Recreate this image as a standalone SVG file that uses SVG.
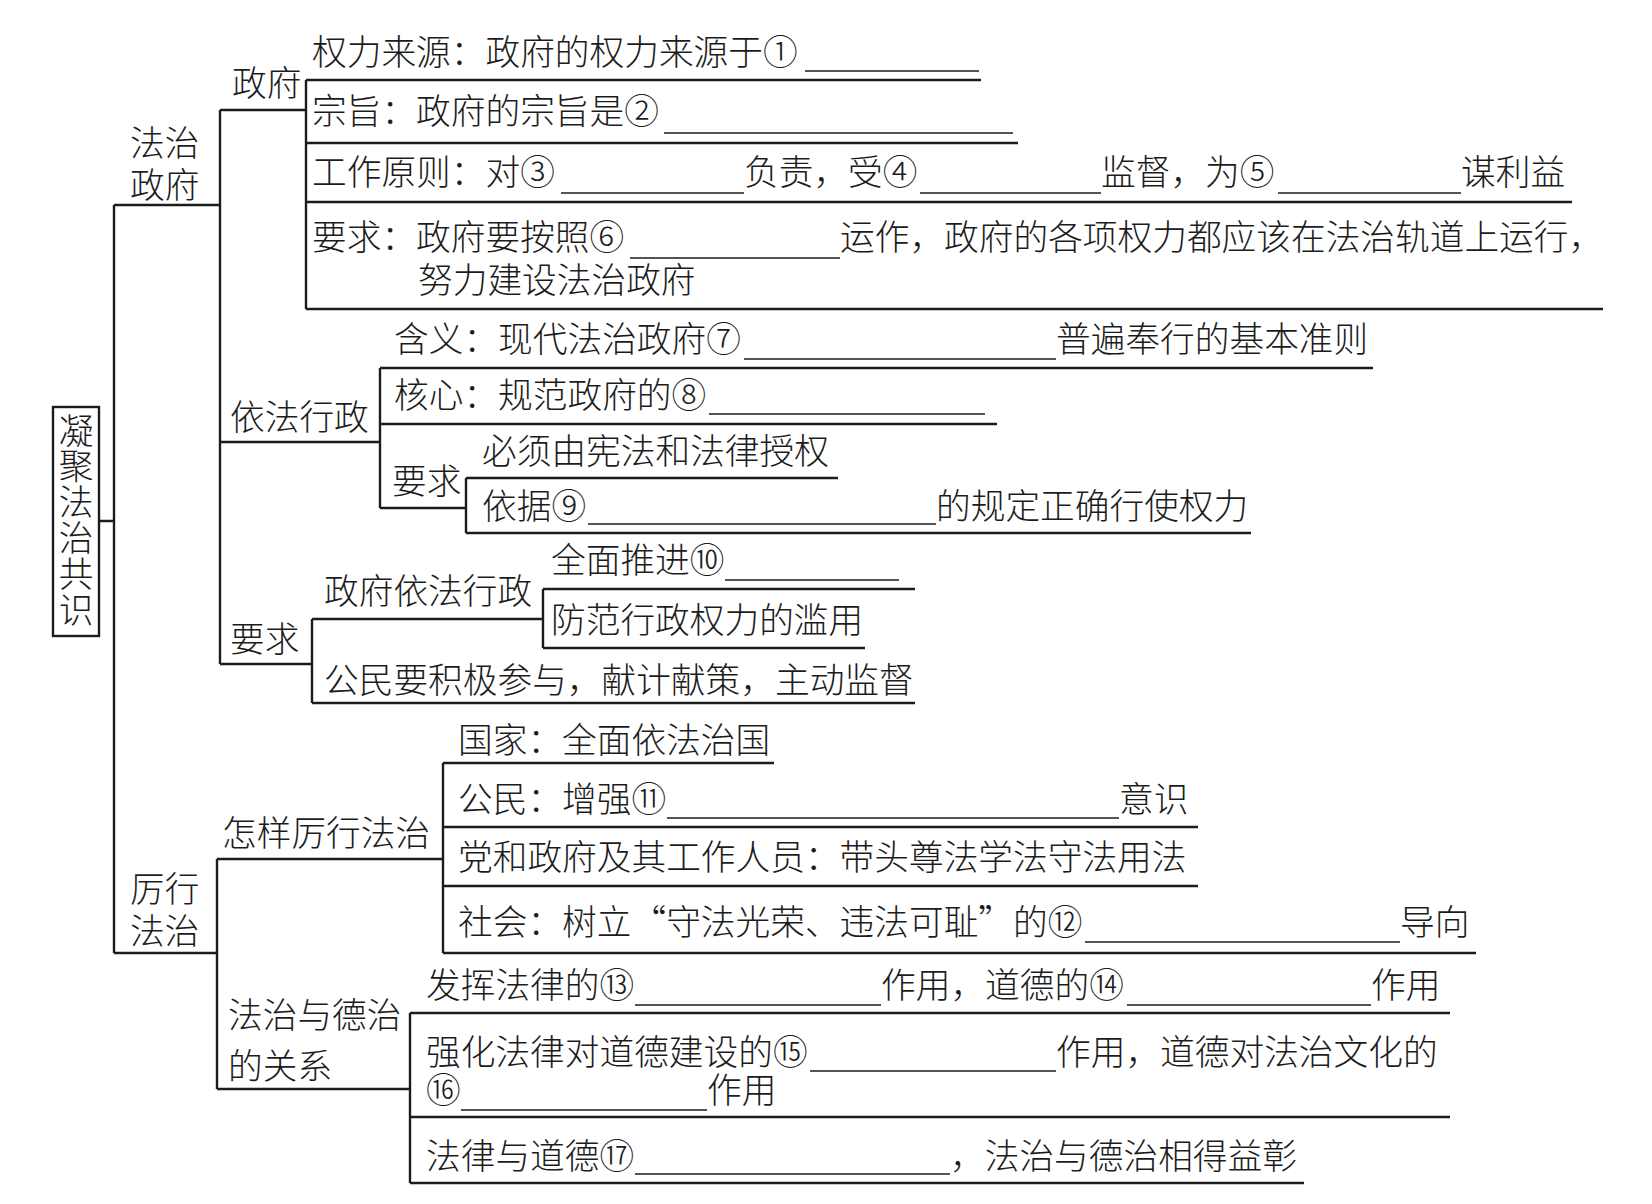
<svg xmlns="http://www.w3.org/2000/svg" width="1652" height="1204" viewBox="0 0 1652 1204">
<defs>
<style>
text{font-family:"Noto Sans CJK SC","Noto Sans CJK TC",sans-serif;font-size:34.7px;font-weight:300;fill:#1c1c1c}
.v{writing-mode:vertical-rl;letter-spacing:1.1px}
.c path{fill:none;stroke:#1c1c1c;stroke-width:2.4}
.b{stroke:#1c1c1c;stroke-width:1.6}
.box{fill:none;stroke:#1c1c1c;stroke-width:2.4}
</style>
</defs>
<rect width="1652" height="1204" fill="#fff"/>
<g class="c" id="connectors">
<path d="M98,521H114M114,205V953M114,205H220M220,110V664M220,110H306M306,80V309"/>
<path d="M306,80H981M306,143H1018M306,202H1572M306,309H1603"/>
<path d="M220,442H380M380,368V508M380,368H1373M380,424H997M380,508H466M466,478V533M466,478H838M466,533H1251"/>
<path d="M220,664H312M312,619V703M312,619H543M543,589V648M543,589H915M543,648H865M312,703H915"/>
<path d="M114,953H217M217,859V1089M217,859H443M443,763V953M443,763H774M443,827H1198M443,886H1198M443,953H1476"/>
<path d="M217,1089H410M410,1013V1183M410,1013H1450M410,1117H1450M410,1183H1304"/>
</g>
<g id="root">
<rect class="box" x="53" y="407" width="46" height="229"/>
<text class="v" x="76" y="413">凝聚法治共识</text>
</g>
<g id="fazhi-zhengfu">
<text><tspan x="130" y="156">法治</tspan><tspan x="130" y="198">政府</tspan></text>
</g>
<g id="zhengfu">
<text x="232" y="96">政府</text>
</g>
<g id="item1">
<text x="312" y="65">权力来源：政府的权力来源于①</text>
<line class="b" x1="805" y1="71" x2="979" y2="71"/>
</g>
<g id="item2">
<text x="312" y="124">宗旨：政府的宗旨是②</text>
<line class="b" x1="664" y1="133" x2="1013" y2="133"/>
</g>
<g id="item3">
<text><tspan x="312" y="185">工作原则：对③</tspan><tspan x="744" y="185">负责，受④</tspan><tspan x="1101" y="185">监督，为⑤</tspan><tspan x="1461" y="185">谋利益</tspan></text>
<line class="b" x1="561" y1="193" x2="744" y2="193"/>
<line class="b" x1="920" y1="193" x2="1101" y2="193"/>
<line class="b" x1="1278" y1="193" x2="1461" y2="193"/>
</g>
<g id="item4">
<text><tspan x="312" y="250">要求：政府要按照⑥</tspan><tspan x="840" y="250">运作，政府的各项权力都应该在法治轨道上运行，</tspan><tspan x="418" y="293">努力建设法治政府</tspan></text>
<line class="b" x1="630" y1="258" x2="840" y2="258"/>
</g>
<g id="yifa-xingzheng">
<text x="230" y="430">依法行政</text>
</g>
<g id="hanyi">
<text><tspan x="394" y="352">含义：现代法治政府⑦</tspan><tspan x="1056" y="352">普遍奉行的基本准则</tspan></text>
<line class="b" x1="744" y1="359" x2="1056" y2="359"/>
</g>
<g id="hexin">
<text x="394" y="408">核心：规范政府的⑧</text>
<line class="b" x1="709" y1="414" x2="985" y2="414"/>
</g>
<g id="yaoqiu1">
<text x="392" y="494">要求</text>
</g>
<g id="shouquan">
<text x="482" y="464">必须由宪法和法律授权</text>
</g>
<g id="yiju">
<text><tspan x="482" y="519">依据⑨</tspan><tspan x="936" y="519">的规定正确行使权力</tspan></text>
<line class="b" x1="588" y1="524" x2="936" y2="524"/>
</g>
<g id="yaoqiu2">
<text x="230" y="652">要求</text>
</g>
<g id="zhengfu-yifa">
<text x="324" y="604">政府依法行政</text>
</g>
<g id="tuijin">
<text x="551" y="573">全面推进⑩</text>
<line class="b" x1="725" y1="580" x2="899" y2="580"/>
</g>
<g id="fangfan">
<text x="551" y="633">防范行政权力的滥用</text>
</g>
<g id="gongmin-canyu">
<text x="324" y="693">公民要积极参与，献计献策，主动监督</text>
</g>
<g id="lixing-fazhi">
<text><tspan x="130" y="902">厉行</tspan><tspan x="130" y="944">法治</tspan></text>
</g>
<g id="zenyang">
<text x="222" y="846">怎样厉行法治</text>
</g>
<g id="guojia">
<text x="458" y="753">国家：全面依法治国</text>
</g>
<g id="gongmin">
<text><tspan x="458" y="812">公民：增强⑪</tspan><tspan x="1119" y="812">意识</tspan></text>
<line class="b" x1="667" y1="818" x2="1119" y2="818"/>
</g>
<g id="dang">
<text x="458" y="870">党和政府及其工作人员：带头尊法学法守法用法</text>
</g>
<g id="shehui">
<text><tspan x="458" y="935">社会：树立“守法光荣、违法可耻”的⑫</tspan><tspan x="1400" y="935">导向</tspan></text>
<line class="b" x1="1085" y1="942" x2="1400" y2="942"/>
</g>
<g id="fazhi-dezhi">
<text><tspan x="228" y="1028">法治与德治</tspan><tspan x="228" y="1079">的关系</tspan></text>
</g>
<g id="fahui">
<text><tspan x="426" y="998">发挥法律的⑬</tspan><tspan x="881" y="998">作用，道德的⑭</tspan><tspan x="1371" y="998">作用</tspan></text>
<line class="b" x1="635" y1="1005" x2="881" y2="1005"/>
<line class="b" x1="1127" y1="1005" x2="1371" y2="1005"/>
</g>
<g id="qianghua">
<text><tspan x="426" y="1065">强化法律对道德建设的⑮</tspan><tspan x="1056" y="1065">作用，道德对法治文化的</tspan><tspan x="426" y="1103">⑯</tspan><tspan x="707" y="1103">作用</tspan></text>
<line class="b" x1="810" y1="1071" x2="1056" y2="1071"/>
<line class="b" x1="461" y1="1110" x2="707" y2="1110"/>
</g>
<g id="falv-daode">
<text><tspan x="426" y="1169">法律与道德⑰</tspan><tspan x="950" y="1169">，法治与德治相得益彰</tspan></text>
<line class="b" x1="635" y1="1174" x2="950" y2="1174"/>
</g>
</svg>
